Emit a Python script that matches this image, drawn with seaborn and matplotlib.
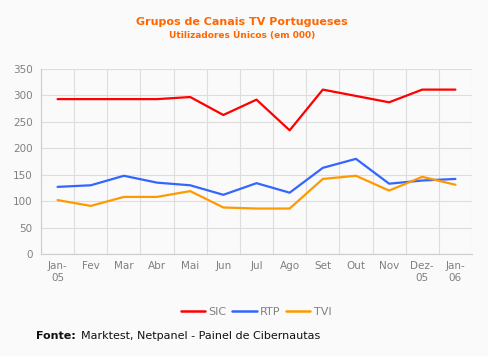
import matplotlib
matplotlib.use("Agg")
import matplotlib.pyplot as plt
import seaborn as sns
import pandas as pd

months = ["Jan-\n05", "Fev", "Mar", "Abr", "Mai", "Jun", "Jul", "Ago",
          "Set", "Out", "Nov", "Dez-\n05", "Jan-\n06"]
sic = [293, 293, 293, 293, 297, 263, 292, 234, 311, 299, 287, 311, 311]
rtp = [127, 130, 148, 135, 130, 112, 134, 116, 163, 180, 133, 139, 142]
tvi = [102, 91, 108, 108, 119, 88, 86, 86, 142, 148, 120, 146, 131]
series = ["SIC", "RTP", "TVI"]
colors = ["#ff0000", "#3366ff", "#ff9900"]

df = pd.DataFrame({"idx": list(range(len(months))) * 3,
                   "valor": sic + rtp + tvi,
                   "grupo": [s for s in series for _ in months]})

sns.set_style("white")
plt.rcParams["font.family"] = ["DejaVu Sans"]
bg = "#fafafa"
fig = plt.figure(figsize=(4.89, 3.56), dpi=100, facecolor=bg)
ax = fig.add_axes([41 / 489, 1 - 254 / 356, (472 - 41) / 489, (254 - 69) / 356])
ax.set_facecolor(bg)

sns.lineplot(data=df, x="idx", y="valor", hue="grupo", palette=colors,
             linewidth=1.6, ax=ax, legend=False)

ax.set_xlim(-0.5, len(months) - 0.5)
ax.set_ylim(0, 350)
ax.set_yticks(range(0, 351, 50))
ax.set_xticks(range(len(months)))
ax.set_xticklabels(months, fontsize=7.5, color="#808080", linespacing=1.3)
ax.set_xticks([i - 0.5 for i in range(len(months) + 1)], minor=True)
ax.tick_params(axis="y", labelsize=7.5, labelcolor="#808080", length=4, color="#cccccc", pad=2)
ax.tick_params(axis="x", which="major", length=0, pad=5)
ax.tick_params(axis="x", which="minor", length=4, color="#cccccc")
ax.grid(True, which="minor", axis="x", color="#dddddd", linewidth=0.8)
ax.grid(True, which="major", axis="y", color="#dddddd", linewidth=0.8)
ax.set_xlabel("")
ax.set_ylabel("")
for side in ["top", "right"]:
    ax.spines[side].set_visible(False)
for side in ["left", "bottom"]:
    ax.spines[side].set_color("#cccccc")
    ax.spines[side].set_linewidth(0.8)

# titles
fig.text(242 / 489, 1 - 22 / 356, "Grupos de Canais TV Portugueses", ha="center", va="center",
         color="#ff6600", fontsize=8, fontweight="bold")
fig.text(242 / 489, 1 - 35 / 356, "Utilizadores Únicos (em 000)", ha="center", va="center",
         color="#ff6600", fontsize=6.5, fontweight="bold")

# legend
handles = [plt.Line2D([], [], color=c, linewidth=1.8) for c in colors]
leg = fig.legend(handles, series, loc="center", bbox_to_anchor=(256 / 489, 1 - 312 / 356),
                 ncol=3, frameon=False, fontsize=8, handlelength=2.2, handletextpad=0.3,
                 columnspacing=0.5)
for t in leg.get_texts():
    t.set_color("#808080")

# source
fig.text(36 / 489, 1 - 336 / 356, "Fonte:", ha="left", va="center", fontsize=8,
         fontweight="bold", color="#111111")
fig.text(81 / 489, 1 - 336 / 356, "Marktest, Netpanel - Painel de Cibernautas", ha="left",
         va="center", fontsize=8, color="#111111")

fig.savefig("out.png", dpi=100, facecolor=bg)
